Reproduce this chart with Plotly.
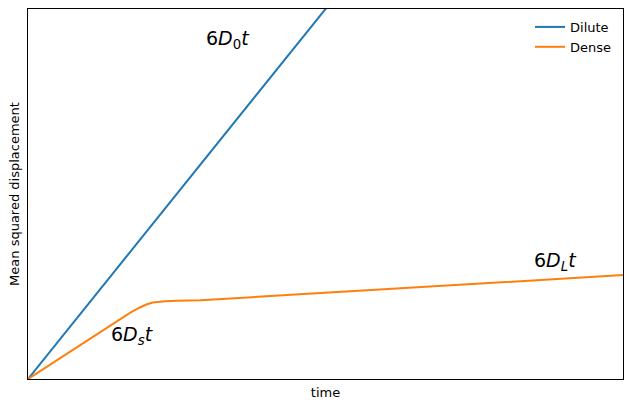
import plotly.graph_objects as go

# Dilute: straight line 6 D0 t
dilute_t = [0, 10]
dilute_msd = [0, 60]

# Dense: short-time slope 6 Ds, cage plateau, long-time slope 6 DL
dense_t = [0, 0.5, 1.0, 1.5, 1.72, 1.88, 2.0, 2.1, 2.2, 2.3, 2.5, 2.9,
           4, 5, 6, 7, 8, 9, 10]
dense_msd = [0, 1.57, 3.14, 4.71, 5.38, 5.8, 6.06, 6.2, 6.27, 6.31, 6.335, 6.38,
             6.70, 6.99, 7.27, 7.56, 7.85, 8.14, 8.43]

labels = ["6<i>D</i><sub>0</sub><i>t</i>",
          "6<i>D</i><sub><i>s</i></sub><i>t</i>",
          "6<i>D</i><sub><i>L</i></sub><i>t</i>"]
label_t = [3.36, 1.76, 8.87]
label_msd = [27.5, 3.5, 9.5]

fig = go.Figure()
fig.add_trace(go.Scatter(x=dilute_t, y=dilute_msd, mode="lines", name="Dilute",
                         line=dict(color="#1f77b4", width=2)))
fig.add_trace(go.Scatter(x=dense_t, y=dense_msd, mode="lines", name="Dense",
                         line=dict(color="#ff7f0e", width=2)))

for txt, tx, ty in zip(labels, label_t, label_msd):
    fig.add_annotation(x=tx, y=ty, text=txt, showarrow=False,
                       font=dict(size=19, color="black", family="DejaVu Sans"))

axis_style = dict(showgrid=False, zeroline=False, showticklabels=False, ticks="",
                  showline=True, linecolor="black", linewidth=1, mirror=True,
                  automargin=False)
fig.update_xaxes(range=[0, 10], title=dict(text="time", standoff=8,
                 font=dict(size=13, color="black")), **axis_style)
fig.update_yaxes(range=[0, 30], title=dict(text="Mean squared displacement", standoff=4,
                 font=dict(size=13, color="black")), **axis_style)

fig.update_layout(
    width=632, height=407,
    margin=dict(l=28, r=9, t=9, b=28),
    plot_bgcolor="white", paper_bgcolor="white",
    font=dict(family="DejaVu Sans", color="black"),
    legend=dict(x=0.99, y=0.992, xanchor="right", yanchor="top",
                bgcolor="rgba(0,0,0,0)", font=dict(size=13)),
)
# page body has a default 8px margin; drop it so the figure sits at 0,0
fig.write_html("out.html", config={"displayModeBar": False},
               post_script="document.body.style.margin='0';document.body.style.overflow='hidden';")
